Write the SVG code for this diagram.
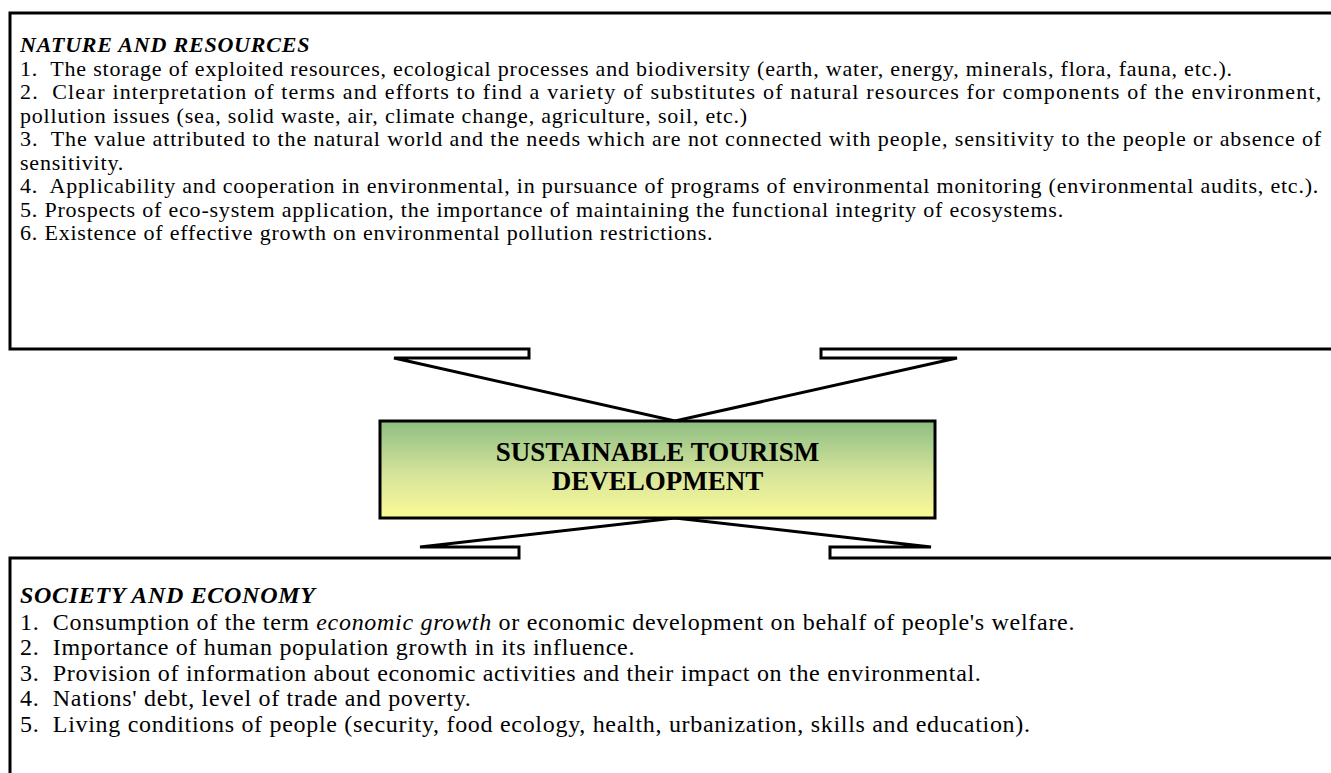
<svg xmlns="http://www.w3.org/2000/svg" width="1331" height="773" viewBox="0 0 1331 773">
  <defs>
    <linearGradient id="coreFill" x1="0" y1="0" x2="0" y2="1">
      <stop offset="0" stop-color="#8dbe82"/>
      <stop offset="0.55" stop-color="#d6e49a"/>
      <stop offset="1" stop-color="#fbfa96"/>
    </linearGradient>
  </defs>
  <style>
    .frame { fill: none; stroke: #000; stroke-width: 3; stroke-linejoin: miter; }
    .core { fill: url(#coreFill); stroke: #000; stroke-width: 3; }
    .body { font-family: "Liberation Serif", "Times New Roman", serif; fill: #000; }
    .top { font-size: 22px; letter-spacing: 0.8px; }
    .bottom { font-size: 24px; letter-spacing: 0.7px; }
    .head { font-weight: bold; font-style: italic; }
    .coreText { font-family: "Liberation Serif", "Times New Roman", serif; font-size: 27px; font-weight: bold; text-anchor: middle; }
  </style>
  <rect width="1331" height="773" fill="#fff"/>

  <!-- Outlines of the two outer panels, including their callout pointers -->
  <g id="connectors">
    <path class="frame" d="M1340,13 H10 V349 H529 V358 H394 L675,421 L957,358 H821 V349 H1340"/>
    <path class="frame" d="M1340,558 H830 V547 H931 L675,518 L420,547 H519 V558 H10 V780"/>
  </g>

  <g id="nature-and-resources" class="body top">
    <text class="head" x="20" y="52">NATURE AND RESOURCES</text>
    <text x="20" y="75.5" xml:space="preserve">1.  The storage of exploited resources, ecological processes and biodiversity (earth, water, energy, minerals, flora, fauna, etc.).</text>
    <text x="20" y="99" xml:space="preserve" textLength="1302" lengthAdjust="spacing">2.  Clear interpretation of terms and efforts to find a variety of substitutes of natural resources for components of the environment,</text>
    <text x="20" y="122.5">pollution issues (sea, solid waste, air, climate change, agriculture, soil, etc.)</text>
    <text x="20" y="146" xml:space="preserve" textLength="1302" lengthAdjust="spacing">3.  The value attributed to the natural world and the needs which are not connected with people, sensitivity to the people or absence of</text>
    <text x="20" y="169.5">sensitivity.</text>
    <text x="20" y="193" xml:space="preserve">4.  Applicability and cooperation in environmental, in pursuance of programs of environmental monitoring (environmental audits, etc.).</text>
    <text x="20" y="216.5">5. Prospects of eco-system application, the importance of maintaining the functional integrity of ecosystems.</text>
    <text x="20" y="240">6. Existence of effective growth on environmental pollution restrictions.</text>
  </g>

  <g id="sustainable-tourism-development">
    <rect class="core" x="380" y="421" width="555" height="97"/>
    <text class="coreText" x="657.5" y="461">SUSTAINABLE TOURISM</text>
    <text class="coreText" x="657.5" y="490">DEVELOPMENT</text>
  </g>

  <g id="society-and-economy" class="body bottom">
    <text class="head" x="20" y="603">SOCIETY AND ECONOMY</text>
    <text x="20" y="629.5" xml:space="preserve">1.  Consumption of the term <tspan font-style="italic">economic growth</tspan> or economic development on behalf of people's welfare.</text>
    <text x="20" y="655" xml:space="preserve">2.  Importance of human population growth in its influence.</text>
    <text x="20" y="680.5" xml:space="preserve">3.  Provision of information about economic activities and their impact on the environmental.</text>
    <text x="20" y="706" xml:space="preserve">4.  Nations' debt, level of trade and poverty.</text>
    <text x="20" y="731.5" xml:space="preserve">5.  Living conditions of people (security, food ecology, health, urbanization, skills and education).</text>
  </g>
</svg>
